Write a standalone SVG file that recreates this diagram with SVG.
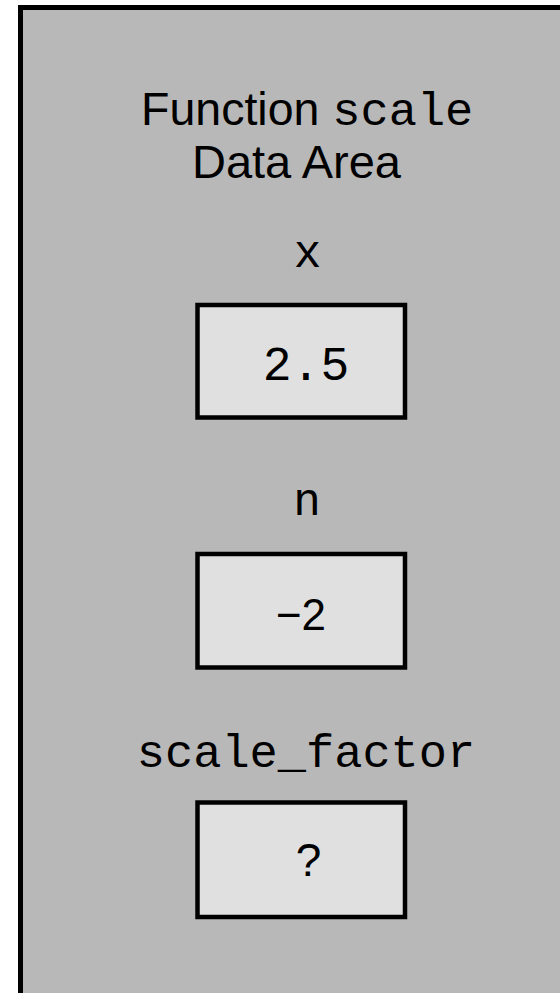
<svg xmlns="http://www.w3.org/2000/svg" width="560" height="993" viewBox="0 0 560 993">
<style>
.frame{fill:#b8b8b8;stroke:#000;stroke-width:5}
.cell{fill:#e0e0e0;stroke:#000;stroke-width:4.5}
.sans{font-family:"Liberation Sans",Arial,sans-serif;fill:#000}
.mono{font-family:"Liberation Mono","Courier New",monospace;fill:#000}
</style>
<rect width="560" height="993" fill="#fff"/>
<g id="data-area">
<rect class="frame" x="20.5" y="7.5" width="560" height="1000"/>
<text class="sans" font-size="46.5" x="141" y="125">Function <tspan class="mono" font-size="47">scale</tspan></text>
<text class="sans" font-size="47" x="296.5" y="178" text-anchor="middle">Data Area</text>
</g>
<g id="var-x">
<text class="mono" font-size="46" x="307.5" y="267" text-anchor="middle">x</text>
<rect class="cell" x="197.5" y="305" width="207.5" height="112.5"/>
<text class="mono" font-size="48" x="306" y="380" text-anchor="middle">2.5</text>
</g>
<g id="var-n">
<text class="mono" font-size="46" x="307" y="515" text-anchor="middle">n</text>
<rect class="cell" x="197.5" y="554" width="207.5" height="113.5"/>
<text class="sans" font-size="44" x="301" y="630" text-anchor="middle">−2</text>
</g>
<g id="var-scale-factor">
<text class="mono" font-size="47" x="306" y="767" text-anchor="middle">scale_factor</text>
<rect class="cell" x="197.5" y="802.5" width="207.5" height="114.5"/>
<text class="sans" font-size="46" x="308.5" y="876" text-anchor="middle">?</text>
</g>
<g id="connectors"/>
</svg>
